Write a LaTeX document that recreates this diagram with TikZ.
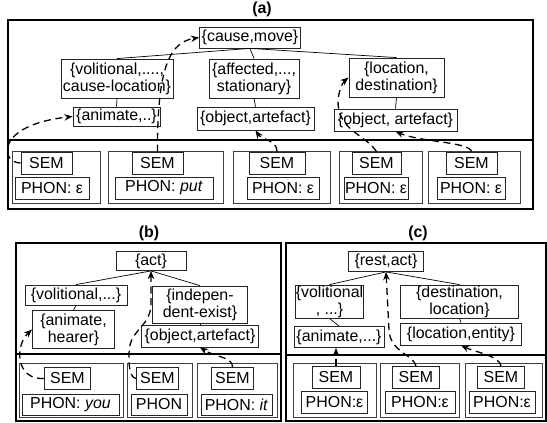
\documentclass[tikz,border=0pt]{standalone}
\usepackage{fontspec}
\setmainfont{Liberation Sans}
\usetikzlibrary{arrows.meta}

\newcommand\lab{\fontsize{13.6}{14.4}\selectfont}

\tikzset{
  box/.style={draw=black!85, line width=0.7pt, inner sep=0.5pt, align=center, font=\lab},
  sz/.style 2 args={minimum width=#1*0.3mm, minimum height=#2*0.3mm},
  panel/.style={draw=black, line width=1.1pt},
  divide/.style={line width=1.4pt},
  word/.style={draw=black!75, line width=0.6pt},
  tree/.style={line width=0.6pt},
  dep/.style={dashed, dash pattern=on 6pt off 4pt, line width=1.1pt, -{Stealth[length=7pt,width=5.5pt]}},
  title/.style={font=\lab\bfseries}
}

\begin{document}
\begin{tikzpicture}[x=0.3mm,y=-0.3mm]
\useasboundingbox (0,0) rectangle (547,423);

% (a)
\node[title] (ta) at (262,9) {(a)};
\draw[panel] (8,20) rectangle (533,209);
\draw[divide] (8,140) -- (533,140);

\node[box, sz={101}{21}] (cma) at (250,37.5) {\{cause,move\}};
\node[box, sz={112}{39}] (vola) at (117,78.5) {\{volitional,....,\\cause-location\}};
\node[box, sz={90}{39}] (affa) at (254,78.5) {\{affected,...,\\stationary\}};
\node[box, sz={95}{39}] (loca) at (396.5,77.5) {\{location,\\destination\}};
\node[box, sz={87}{19}] (ania) at (116.5,116.5) {\{animate,..\}};
\node[box, sz={117}{23}] (obja) at (255.5,118.5) {\{object,artefact\}};
\node[box, sz={123}{22}] (objc) at (395.5,120) {\{object, artefact\}};

\draw[tree] (cma.south) -- (vola.north);
\draw[tree] (cma.south) -- (affa.north);
\draw[tree] (cma.south) -- (loca.north);
\draw[tree] (vola.south) -- (ania.north);
\draw[tree] (affa.south) -- (obja.north);
\draw[tree] (loca.south) -- (objc.north);

\draw[word] (12,151) rectangle (100,203);
\draw[word] (108,151) rectangle (223,203);
\draw[word] (233,151) rectangle (330,203);
\draw[word] (339,151) rectangle (422,203);
\draw[word] (428,151) rectangle (520,203);

\node[box, sz={51}{22}] (sema1) at (46.5,163) {SEM};
\node[box, sz={51}{22}] (sema2) at (157.5,163) {SEM};
\node[box, sz={56}{22}] (sema3) at (277,163) {SEM};
\node[box, sz={49}{22}] (sema4) at (376.5,163) {SEM};
\node[box, sz={51}{22}] (sema5) at (471.5,163) {SEM};
\node[box, sz={74}{22}] (phona1) at (52,188) {PHON: ε};
\node[box, sz={98}{22}] (phona2) at (164,188) {PHON: \textit{put}};
\node[box, sz={72}{22}] (phona3) at (283,188) {PHON: ε};
\node[box, sz={64}{22}] (phona4) at (376,188) {PHON: ε};
\node[box, sz={68}{22}] (phona5) at (471,188) {PHON: ε};

\draw[dep] (sema1.west) .. controls (0,163) and (-5,125) .. (ania.west);
\draw[dep] (sema2.north) .. controls (157,62) and (172,42) .. (cma.west);
\draw[dep] (sema3.north) .. controls (277,140) and (262,140) .. (obja.south);
\draw[dep] (sema4.north) .. controls (366,135) and (337,130) .. (338,100) .. controls (339,90) and (343,82) .. (loca.west);
\draw[dep] (sema5.north) .. controls (470,142) and (420,142) .. (objc.south);

% (b)
\node[title] (tb) at (149,233) {(b)};
\draw[panel] (16,243) rectangle (281,421);
\draw[divide] (16,354) -- (281,354);

\node[box, sz={70}{19}] (actb) at (151,261) {\{act\}};
\node[box, sz={102}{20}] (volb) at (76,295) {\{volitional,...\}};
\node[box, sz={82}{38}] (anib) at (73.5,329.5) {\{animate,\\hearer\}};
\node[box, sz={95}{37}] (indb) at (200,304.5) {\{indepen-\\dent-exist\}};
\node[box, sz={117}{22}] (objb) at (200,336) {\{object,artefact\}};

\draw[tree] (actb.south) -- (volb.north);
\draw[tree] (actb.south) -- (indb.north);
\draw[tree] (volb.south) -- (anib.north);
\draw[tree] (indb.south) -- (objb.north);

\draw[word] (19,363) rectangle (123,417);
\draw[word] (127,363) rectangle (192,417);
\draw[word] (197,363) rectangle (277,417);

\node[box, sz={46}{22}] (semb1) at (67.5,378.5) {SEM};
\node[box, sz={42}{22}] (semb2) at (157.5,378.5) {SEM};
\node[box, sz={42}{22}] (semb3) at (232.5,378.5) {SEM};
\node[box, sz={97}{21}] (phonb1) at (70.5,404.5) {PHON: \textit{you}};
\node[box, sz={56}{21}] (phonb2) at (159,404.5) {PHON};
\node[box, sz={71}{21}] (phonb3) at (236.5,404.5) {PHON: \textit{it}};

\draw[dep] (semb1.west) .. controls (15,380) and (15,345) .. (anib.west);
\draw[dep] (semb2.west) .. controls (128,378) and (128,355) .. (130,345) .. controls (133,330) and (150,325) .. (151,305) -- (actb.south);
\draw[dep] (semb3.north) .. controls (233,357) and (215,357) .. (objb.south);

% (c)
\node[title] (tc) at (418,233) {(c)};
\draw[panel] (286,243) rectangle (546,421);
\draw[divide] (286,355) -- (546,355);

\node[box, sz={75}{20}] (restc) at (386,261.5) {\{rest,act\}};
\node[box, sz={68}{33}] (volc) at (329.5,301.5) {\{volitional\\, ...\}};
\node[box, sz={118}{33}] (destc) at (459.5,301.5) {\{destination,\\location\}};
\node[box, sz={90}{21}] (anic) at (339,337) {\{animate,...\}};
\node[box, sz={121}{22}] (locc) at (461,334) {\{location,entity\}};

\draw[tree] (restc.south) -- (volc.north);
\draw[tree] (restc.south) -- (destc.north);
\draw[tree] (volc.south) -- (anic.north);
\draw[tree] (destc.south) -- (locc.north);

\draw[word] (293,363) rectangle (376,417);
\draw[word] (380,363) rectangle (459,417);
\draw[word] (465,363) rectangle (542,417);

\node[box, sz={48}{22}] (semc1) at (336,377.5) {SEM};
\node[box, sz={47}{22}] (semc2) at (416,377.5) {SEM};
\node[box, sz={47}{22}] (semc3) at (501,377.5) {SEM};
\node[box, sz={66}{22}] (phonc1) at (334.5,402.5) {PHON:ε};
\node[box, sz={70}{22}] (phonc2) at (420,402.5) {PHON:ε};
\node[box, sz={66}{22}] (phonc3) at (502,402.5) {PHON:ε};

\draw[dep] (semc1.north) -- (semc1.north |- anic.south);
\draw[dep] (semc2.north) .. controls (414,355) and (390,352) .. (389,330) -- (restc.south);
\draw[dep] (semc3.north) .. controls (500,356) and (475,352) .. (locc.south);

\end{tikzpicture}
\end{document}
